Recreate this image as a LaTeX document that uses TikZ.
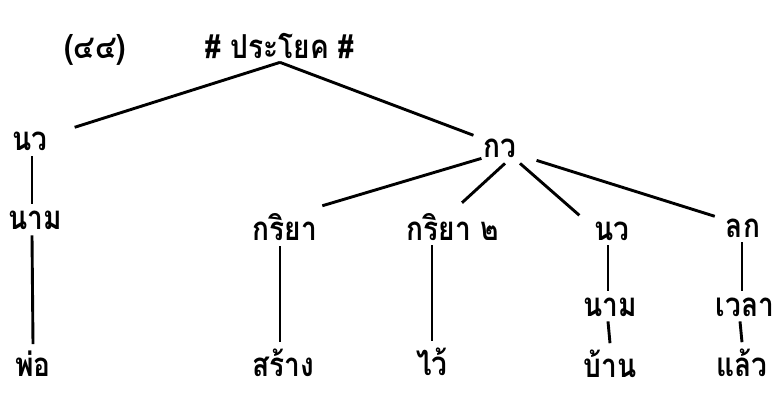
\documentclass[tikz,border=0pt]{standalone}
\usepackage{fontspec}
\newfontfamily\thaifont[Script=Thai,FakeStretch=0.85]{Loma}
\begin{document}
\begin{tikzpicture}[x=1pt,y=-1pt,
  lbl/.style={font=\thaifont\bfseries\fontsize{33}{35}\selectfont, anchor=base, inner sep=0pt},
  leaf/.style={lbl, text depth=1pt},
  br/.style={line width=2.9pt}]
\useasboundingbox (0,0) rectangle (782,392);
\node[lbl] (num) at (95,58) {(๔๔)};
\node[lbl] (root) at (280,58) {\# ประโยค \#};
\node[lbl] (nv1) at (30,150) {นว};
\node[lbl] (nam1) at (35,229) {นาม};
\node[leaf] (pho) at (33,376) {พ่อ};
\node[lbl] (kv) at (500,157) {กว};
\node[lbl] (kr1) at (285,240) {กริยา};
\node[lbl] (kr2) at (453,240) {กริยา ๒};
\node[lbl] (nv2) at (612,240) {นว};
\node[lbl] (lk) at (743,237) {ลก};
\node[lbl] (nam2) at (610,316) {นาม};
\node[lbl] (wela) at (745,316) {เวลา};
\node[leaf] (sang) at (283,376) {สร้าง};
\node[leaf] (wai) at (432,375) {ไว้};
\node[leaf] (ban) at (610,377) {บ้าน};
\node[leaf] (laeo) at (742,376) {แล้ว};
\coordinate (apex) at ([yshift=-4pt]root.south);
\draw[br] (apex) -- ([shift={(27pt,4pt)}]nv1.north east);
\draw[br] (apex) -- ([shift={(-10pt,3pt)}]kv.north west);
\draw[br] ([shift={(-2pt,-1pt)}]kv.south west) -- ([shift={(5pt,7pt)}]kr1.north east);
\draw[br] ([shift={(5pt,-6pt)}]kv.south) -- ([shift={(9pt,10pt)}]kr2.north);
\draw[br] ([shift={(20pt,-6pt)}]kv.south) -- ([shift={(-15pt,6pt)}]nv2.north west);
\draw[br] ([shift={(20pt,-3pt)}]kv.south east) -- ([shift={(-11pt,2pt)}]lk.north west);
\draw[br] ([xshift=2pt,yshift=-6pt]nv1.south) -- ([xshift=-3pt,yshift=6pt]nam1.north);
\draw[br] ([xshift=-3pt,yshift=-6pt]nam1.south) -- ([xshift=0pt,yshift=6pt]pho.north);
\draw[br] ([xshift=-5pt,yshift=-6pt]kr1.south) -- ([xshift=-3pt,yshift=6pt]sang.north);
\draw[br] ([xshift=-21pt,yshift=-5pt]kr2.south) -- ([yshift=6pt]wai.north);
\draw[br] ([xshift=-4pt,yshift=-5pt]nv2.south) -- ([xshift=-2pt,yshift=6pt]nam2.north);
\draw[br] ([xshift=-2pt,yshift=-5pt]nam2.south) -- ([yshift=6pt]ban.north);
\draw[br] ([xshift=-1pt,yshift=-5pt]lk.south) -- ([xshift=-3pt,yshift=6pt]wela.north);
\draw[br] ([xshift=-5pt,yshift=-5pt]wela.south) -- ([yshift=6pt]laeo.north);
\end{tikzpicture}
\end{document}
